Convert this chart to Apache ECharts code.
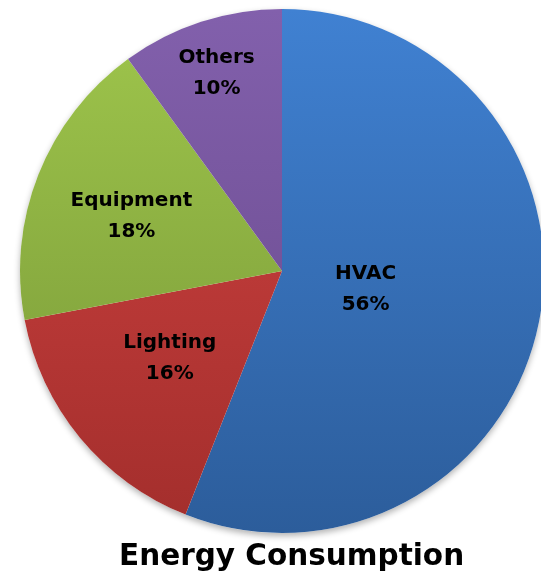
<!DOCTYPE html>
<html>
<head>
<meta charset="utf-8">
<style>
  html, body { margin: 0; padding: 0; background: #fff; }
  #chart { width: 541px; height: 576px; }
</style>
<script src="https://cdn.jsdelivr.net/npm/echarts@6/dist/echarts.min.js"></script>
</head>
<body>
<div id="chart"></div>
<script>
// Share of building energy use by end use
const categories = ['HVAC', 'Lighting', 'Equipment', 'Others'];
const shares = [56, 16, 18, 10];
const chartTitle = 'Energy Consumption';

// Vertical shading per slice: lighter at top, darker at bottom
const sliceColors = [
  ['#4081d2', '#2c5d9b'],
  ['#d24442', '#a32e2c'],
  ['#9fc64c', '#769536'],
  ['#8260ac', '#664789']
];
// Nudges so each label sits where it reads best inside its slice
const labelOffsets = [[-48, -7], [-9, 2], [-26, -5], [-24, -70]];

const pieCenter = [282, 271];
const pieRadius = 262;

const chart = echarts.init(document.getElementById('chart'), null, { renderer: 'canvas' });

const data = categories.map((name, i) => ({
  name: name,
  value: shares[i],
  itemStyle: {
    color: {
      type: 'linear', x: 0, y: 9, x2: 0, y2: 533, global: true,
      colorStops: [
        { offset: 0, color: sliceColors[i][0] },
        { offset: 1, color: sliceColors[i][1] }
      ]
    }
  },
  label: { offset: labelOffsets[i] }
}));

const total = shares.reduce((a, b) => a + b, 0);

chart.setOption({
  animation: false,
  title: {
    text: chartTitle,
    left: 114,
    top: 537,
    textStyle: {
      fontFamily: 'DejaVu Sans',
      fontWeight: 'bold',
      fontSize: 29.5,
      color: '#000'
    }
  },
  series: [
    {
      // soft drop shadow under the whole disc
      type: 'pie',
      z: 1,
      center: pieCenter,
      radius: [0, pieRadius],
      silent: true,
      label: { show: false },
      labelLine: { show: false },
      data: [{ value: total }],
      itemStyle: {
        color: '#ffffff',
        borderWidth: 0,
        shadowBlur: 6,
        shadowOffsetY: 3,
        shadowColor: 'rgba(0,0,0,0.3)'
      }
    },
    {
      type: 'pie',
      z: 2,
      center: pieCenter,
      radius: [0, pieRadius],
      startAngle: 90,
      clockwise: true,
      avoidLabelOverlap: false,
      silent: true,
      data: data,
      itemStyle: { borderWidth: 0 },
      label: {
        show: true,
        position: 'inside',
        formatter: p => p.name + '\n' + p.value + '%',
        fontFamily: 'DejaVu Sans',
        fontWeight: 'bold',
        fontSize: 20,
        lineHeight: 31,
        color: '#000'
      },
      labelLine: { show: false }
    }
  ]
});
</script>
</body>
</html>
